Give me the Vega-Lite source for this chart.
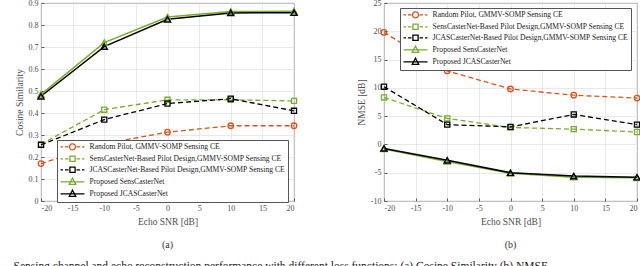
{
  "$schema": "https://vega.github.io/schema/vega-lite/v6.json",
  "padding": {"left": 13, "top": -2, "right": 0, "bottom": 0},
  "background": "white",
  "config": {
    "font": "Liberation Serif",
    "view": {"stroke": "#5a5a5a", "strokeWidth": 0.9},
    "axis": {
      "labelFont": "Liberation Serif", "labelFontSize": 8, "labelColor": "#4d4d4d",
      "titleFont": "Liberation Serif", "titleFontSize": 9.5, "titleFontWeight": "normal", "titleColor": "#4d4d4d",
      "grid": true, "gridColor": "#e0e0e0", "gridWidth": 0.7,
      "domain": false, "tickColor": "#5a5a5a", "tickSize": -3, "labelPadding": 6, "titlePadding": 4,
      "labelExpr": "replace(datum.label, '\u2212', '-')"
    },
    "legend": {
      "labelFont": "Liberation Serif", "labelFontSize": 7.6, "labelColor": "#222",
      "fillColor": "white", "strokeColor": "#555", "padding": 3, "rowPadding": 0,
      "symbolSize": 25, "labelOffset": 22, "title": null, "labelLimit": 300
    },
    "title": {"font": "Liberation Serif", "fontSize": 10, "fontWeight": "normal", "color": "#333"}
  },
  "title": {"text": "Sensing channel and echo reconstruction performance with different loss functions: (a) Cosine Similarity (b) NMSE.", "orient": "bottom", "anchor": "start", "offset": 11, "fontSize": 11.5, "color": "#222"},
  "datasets": {
    "cos": [
      {"snr": -20, "series": "Random Pilot, GMMV-SOMP Sensing CE", "value": 0.17},
      {"snr": -10, "series": "Random Pilot, GMMV-SOMP Sensing CE", "value": 0.26},
      {"snr": 0, "series": "Random Pilot, GMMV-SOMP Sensing CE", "value": 0.313},
      {"snr": 10, "series": "Random Pilot, GMMV-SOMP Sensing CE", "value": 0.342},
      {"snr": 20, "series": "Random Pilot, GMMV-SOMP Sensing CE", "value": 0.342},
      {"snr": -20, "series": "SensCasterNet-Based Pilot Design,GMMV-SOMP Sensing CE", "value": 0.258},
      {"snr": -10, "series": "SensCasterNet-Based Pilot Design,GMMV-SOMP Sensing CE", "value": 0.415},
      {"snr": 0, "series": "SensCasterNet-Based Pilot Design,GMMV-SOMP Sensing CE", "value": 0.46},
      {"snr": 10, "series": "SensCasterNet-Based Pilot Design,GMMV-SOMP Sensing CE", "value": 0.46},
      {"snr": 20, "series": "SensCasterNet-Based Pilot Design,GMMV-SOMP Sensing CE", "value": 0.455},
      {"snr": -20, "series": "JCASCasterNet-Based Pilot Design,GMMV-SOMP Sensing CE", "value": 0.255},
      {"snr": -10, "series": "JCASCasterNet-Based Pilot Design,GMMV-SOMP Sensing CE", "value": 0.37},
      {"snr": 0, "series": "JCASCasterNet-Based Pilot Design,GMMV-SOMP Sensing CE", "value": 0.443},
      {"snr": 10, "series": "JCASCasterNet-Based Pilot Design,GMMV-SOMP Sensing CE", "value": 0.465},
      {"snr": 20, "series": "JCASCasterNet-Based Pilot Design,GMMV-SOMP Sensing CE", "value": 0.41},
      {"snr": -20, "series": "Proposed SensCasterNet", "value": 0.485},
      {"snr": -10, "series": "Proposed SensCasterNet", "value": 0.72},
      {"snr": 0, "series": "Proposed SensCasterNet", "value": 0.836},
      {"snr": 10, "series": "Proposed SensCasterNet", "value": 0.861},
      {"snr": 20, "series": "Proposed SensCasterNet", "value": 0.863},
      {"snr": -20, "series": "Proposed JCASCasterNet", "value": 0.476},
      {"snr": -10, "series": "Proposed JCASCasterNet", "value": 0.702},
      {"snr": 0, "series": "Proposed JCASCasterNet", "value": 0.826},
      {"snr": 10, "series": "Proposed JCASCasterNet", "value": 0.855},
      {"snr": 20, "series": "Proposed JCASCasterNet", "value": 0.856}
    ],
    "nmse": [
      {"snr": -20, "series": "Random Pilot, GMMV-SOMP Sensing CE", "value": 19.8},
      {"snr": -10, "series": "Random Pilot, GMMV-SOMP Sensing CE", "value": 13.0},
      {"snr": 0, "series": "Random Pilot, GMMV-SOMP Sensing CE", "value": 9.8},
      {"snr": 10, "series": "Random Pilot, GMMV-SOMP Sensing CE", "value": 8.7},
      {"snr": 20, "series": "Random Pilot, GMMV-SOMP Sensing CE", "value": 8.2},
      {"snr": -20, "series": "SensCasterNet-Based Pilot Design,GMMV-SOMP Sensing CE", "value": 8.3},
      {"snr": -10, "series": "SensCasterNet-Based Pilot Design,GMMV-SOMP Sensing CE", "value": 4.6},
      {"snr": 0, "series": "SensCasterNet-Based Pilot Design,GMMV-SOMP Sensing CE", "value": 3.0},
      {"snr": 10, "series": "SensCasterNet-Based Pilot Design,GMMV-SOMP Sensing CE", "value": 2.7},
      {"snr": 20, "series": "SensCasterNet-Based Pilot Design,GMMV-SOMP Sensing CE", "value": 2.2},
      {"snr": -20, "series": "JCASCasterNet-Based Pilot Design,GMMV-SOMP Sensing CE", "value": 10.2},
      {"snr": -10, "series": "JCASCasterNet-Based Pilot Design,GMMV-SOMP Sensing CE", "value": 3.5},
      {"snr": 0, "series": "JCASCasterNet-Based Pilot Design,GMMV-SOMP Sensing CE", "value": 3.1},
      {"snr": 10, "series": "JCASCasterNet-Based Pilot Design,GMMV-SOMP Sensing CE", "value": 5.3},
      {"snr": 20, "series": "JCASCasterNet-Based Pilot Design,GMMV-SOMP Sensing CE", "value": 3.5},
      {"snr": -20, "series": "Proposed SensCasterNet", "value": -0.8},
      {"snr": -10, "series": "Proposed SensCasterNet", "value": -3.0},
      {"snr": 0, "series": "Proposed SensCasterNet", "value": -5.1},
      {"snr": 10, "series": "Proposed SensCasterNet", "value": -5.8},
      {"snr": 20, "series": "Proposed SensCasterNet", "value": -5.9},
      {"snr": -20, "series": "Proposed JCASCasterNet", "value": -0.7},
      {"snr": -10, "series": "Proposed JCASCasterNet", "value": -2.8},
      {"snr": 0, "series": "Proposed JCASCasterNet", "value": -5.0},
      {"snr": 10, "series": "Proposed JCASCasterNet", "value": -5.6},
      {"snr": 20, "series": "Proposed JCASCasterNet", "value": -5.8}
    ]
  },
  "spacing": 54,
  "hconcat": [
    {
      "width": 253, "height": 198,
      "title": {"text": "(a)", "orient": "bottom", "offset": 14},
      "data": {"name": "cos"},
      "encoding": {
        "x": {"field": "snr", "type": "quantitative", "title": "Echo SNR [dB]", "scale": {"domain": [-20, 20], "nice": false}, "axis": {"values": [-20, -15, -10, -5, 0, 5, 10, 15, 20]}},
        "y": {"field": "value", "type": "quantitative", "title": "Cosine Similarity", "scale": {"domain": [0, 0.9], "nice": false}, "axis": {"values": [0, 0.1, 0.2, 0.3, 0.4, 0.5, 0.6, 0.7, 0.8, 0.9], "format": ".1~f"}}
      },
      "layer": [
        {"transform": [{"filter": {"field": "series", "oneOf": ["Random Pilot, GMMV-SOMP Sensing CE", "SensCasterNet-Based Pilot Design,GMMV-SOMP Sensing CE", "JCASCasterNet-Based Pilot Design,GMMV-SOMP Sensing CE"]}}],
         "mark": {"type": "line", "strokeDash": [5, 3], "strokeWidth": 1.3},
         "encoding": {"color": {
          "field": "series", "type": "nominal",
          "scale": {"domain": ["Random Pilot, GMMV-SOMP Sensing CE", "SensCasterNet-Based Pilot Design,GMMV-SOMP Sensing CE", "JCASCasterNet-Based Pilot Design,GMMV-SOMP Sensing CE", "Proposed SensCasterNet", "Proposed JCASCasterNet"], "range": ["#D95319", "#77AC30", "#000000", "#77AC30", "#000000"]},
          "legend": {
            "orient": "none", "legendX": 16, "legendY": 137,
            "encode": {"symbols": {"update": {
              "x": {"value": 12.5},
              "strokeWidth": {"value": 1.3},
              "strokeDash": {"value": [1, 0]},
              "fill": {"value": "transparent"},
              "shape": {"signal": "indexof(datum.value,'Random')===0 ? 'M-4.8,0H-3.8M-3,0H-1.6M1.6,0H3M3.8,0H4.8M1.2,0A1.2,1.2,0,1,1,-1.2,0A1.2,1.2,0,1,1,1.2,0' : (indexof(datum.value,'Proposed')===0 ? 'M-4.8,0H4.8M0,-1.44L1.28,1H-1.28Z' : 'M-4.8,0H-3.8M-3,0H-1.6M1.6,0H3M3.8,0H4.8M-1.04,-1.04H1.04V1.04H-1.04Z')"}
            }}}
          }
         }}},
        {"transform": [{"filter": {"field": "series", "oneOf": ["Proposed SensCasterNet", "Proposed JCASCasterNet"]}}],
         "mark": {"type": "line", "strokeWidth": 1.5},
         "encoding": {"color": {"field": "series", "type": "nominal"}}},
        {"transform": [{"filter": {"field": "series", "oneOf": ["Random Pilot, GMMV-SOMP Sensing CE"]}}],
         "mark": {"type": "point", "shape": "circle", "filled": false, "strokeWidth": 1.3, "size": 30, "opacity": 1},
         "encoding": {"stroke": {"field": "series", "type": "nominal", "legend": null, "scale": {"domain": ["Random Pilot, GMMV-SOMP Sensing CE", "SensCasterNet-Based Pilot Design,GMMV-SOMP Sensing CE", "JCASCasterNet-Based Pilot Design,GMMV-SOMP Sensing CE", "Proposed SensCasterNet", "Proposed JCASCasterNet"], "range": ["#D95319", "#77AC30", "#000000", "#77AC30", "#000000"]}}}},
        {"transform": [{"filter": {"field": "series", "oneOf": ["SensCasterNet-Based Pilot Design,GMMV-SOMP Sensing CE", "JCASCasterNet-Based Pilot Design,GMMV-SOMP Sensing CE"]}}],
         "mark": {"type": "point", "shape": "square", "filled": false, "strokeWidth": 1.3, "size": 26, "opacity": 1},
         "encoding": {"stroke": {"field": "series", "type": "nominal", "legend": null}}},
        {"transform": [{"filter": {"field": "series", "oneOf": ["Proposed SensCasterNet", "Proposed JCASCasterNet"]}}],
         "mark": {"type": "point", "shape": "triangle-up", "filled": false, "strokeWidth": 1.4, "size": 38, "opacity": 1},
         "encoding": {"stroke": {"field": "series", "type": "nominal", "legend": null}}}
      ]
    },
    {
      "width": 253, "height": 198,
      "title": {"text": "(b)", "orient": "bottom", "offset": 14},
      "data": {"name": "nmse"},
      "encoding": {
        "x": {"field": "snr", "type": "quantitative", "title": "Echo SNR [dB]", "scale": {"domain": [-20, 20], "nice": false}, "axis": {"values": [-20, -15, -10, -5, 0, 5, 10, 15, 20]}},
        "y": {"field": "value", "type": "quantitative", "title": "NMSE [dB]", "scale": {"domain": [-10, 25], "nice": false}, "axis": {"values": [-10, -5, 0, 5, 10, 15, 20, 25]}}
      },
      "layer": [
        {"transform": [{"filter": {"field": "series", "oneOf": ["Random Pilot, GMMV-SOMP Sensing CE", "SensCasterNet-Based Pilot Design,GMMV-SOMP Sensing CE", "JCASCasterNet-Based Pilot Design,GMMV-SOMP Sensing CE"]}}],
         "mark": {"type": "line", "strokeDash": [5, 3], "strokeWidth": 1.3},
         "encoding": {"color": {
          "field": "series", "type": "nominal",
          "scale": {"domain": ["Random Pilot, GMMV-SOMP Sensing CE", "SensCasterNet-Based Pilot Design,GMMV-SOMP Sensing CE", "JCASCasterNet-Based Pilot Design,GMMV-SOMP Sensing CE", "Proposed SensCasterNet", "Proposed JCASCasterNet"], "range": ["#D95319", "#77AC30", "#000000", "#77AC30", "#000000"]},
          "legend": {
            "orient": "none", "legendX": 16, "legendY": 5,
            "encode": {"symbols": {"update": {
              "x": {"value": 12.5},
              "strokeWidth": {"value": 1.3},
              "strokeDash": {"value": [1, 0]},
              "fill": {"value": "transparent"},
              "shape": {"signal": "indexof(datum.value,'Random')===0 ? 'M-4.8,0H-3.8M-3,0H-1.6M1.6,0H3M3.8,0H4.8M1.2,0A1.2,1.2,0,1,1,-1.2,0A1.2,1.2,0,1,1,1.2,0' : (indexof(datum.value,'Proposed')===0 ? 'M-4.8,0H4.8M0,-1.44L1.28,1H-1.28Z' : 'M-4.8,0H-3.8M-3,0H-1.6M1.6,0H3M3.8,0H4.8M-1.04,-1.04H1.04V1.04H-1.04Z')"}
            }}}
          }
         }}},
        {"transform": [{"filter": {"field": "series", "oneOf": ["Proposed SensCasterNet", "Proposed JCASCasterNet"]}}],
         "mark": {"type": "line", "strokeWidth": 1.5},
         "encoding": {"color": {"field": "series", "type": "nominal"}}},
        {"transform": [{"filter": {"field": "series", "oneOf": ["Random Pilot, GMMV-SOMP Sensing CE"]}}],
         "mark": {"type": "point", "shape": "circle", "filled": false, "strokeWidth": 1.3, "size": 30, "opacity": 1},
         "encoding": {"stroke": {"field": "series", "type": "nominal", "legend": null, "scale": {"domain": ["Random Pilot, GMMV-SOMP Sensing CE", "SensCasterNet-Based Pilot Design,GMMV-SOMP Sensing CE", "JCASCasterNet-Based Pilot Design,GMMV-SOMP Sensing CE", "Proposed SensCasterNet", "Proposed JCASCasterNet"], "range": ["#D95319", "#77AC30", "#000000", "#77AC30", "#000000"]}}}},
        {"transform": [{"filter": {"field": "series", "oneOf": ["SensCasterNet-Based Pilot Design,GMMV-SOMP Sensing CE", "JCASCasterNet-Based Pilot Design,GMMV-SOMP Sensing CE"]}}],
         "mark": {"type": "point", "shape": "square", "filled": false, "strokeWidth": 1.3, "size": 26, "opacity": 1},
         "encoding": {"stroke": {"field": "series", "type": "nominal", "legend": null}}},
        {"transform": [{"filter": {"field": "series", "oneOf": ["Proposed SensCasterNet", "Proposed JCASCasterNet"]}}],
         "mark": {"type": "point", "shape": "triangle-up", "filled": false, "strokeWidth": 1.4, "size": 38, "opacity": 1},
         "encoding": {"stroke": {"field": "series", "type": "nominal", "legend": null}}}
      ]
    }
  ],
  "resolve": {"scale": {"color": "independent", "stroke": "independent"}, "legend": {"color": "independent"}}
}
